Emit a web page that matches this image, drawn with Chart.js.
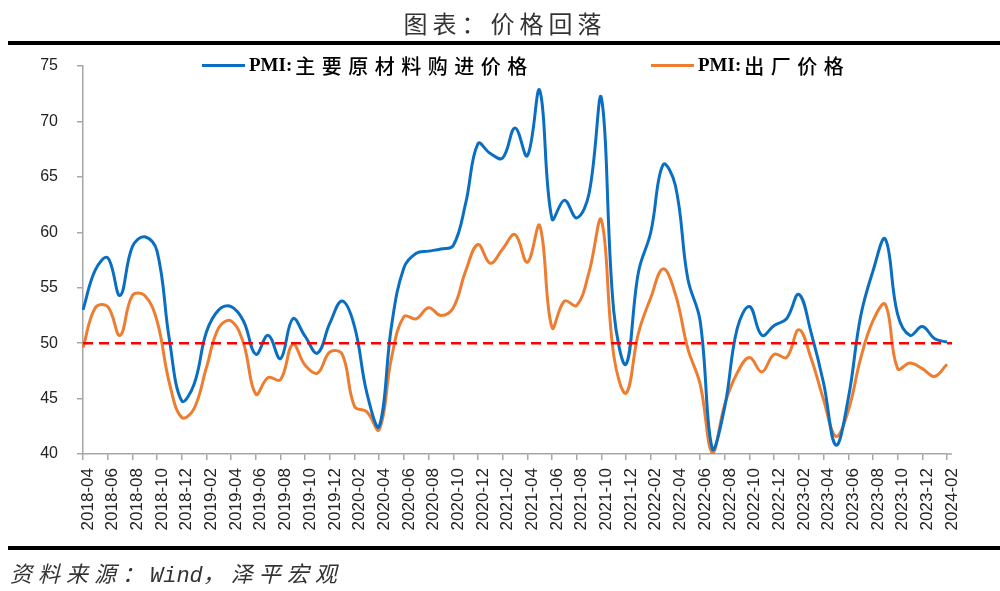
<!DOCTYPE html>
<html>
<head>
<meta charset="utf-8">
<script src="https://cdn.jsdelivr.net/npm/chart.js@4.4.1/dist/chart.umd.min.js"></script>
<style>
  body { margin: 0; background: #fff; width: 1000px; height: 591px; position: relative; overflow: hidden; }
  #chart { position: absolute; left: 0; top: 0; }
  .title { position: absolute; top: 5px; left: 0; width: 1000px; text-align: center; font: 24px "Noto Sans CJK SC"; letter-spacing: 5px; padding-left: 5px; color: #333; }
  .rule { position: absolute; left: 8px; right: 0; height: 4px; background: #000; }
  .leg { position: absolute; top: 52px; height: 26px; display: flex; align-items: center; white-space: nowrap; color: #000; }
  .leg .sw { display: inline-block; width: 43px; height: 3px; margin-right: 4px; }
  .leg .lat { font: bold 19px "Liberation Serif"; margin-right: 3px; }
  .leg .cjk { font: 500 20px "Noto Sans CJK SC"; letter-spacing: 6.5px; }
  .source { position: absolute; left: 10px; top: 556px; font-size: 22px; font-style: italic; color: #333; letter-spacing: 6px; font-family: "Noto Sans CJK SC"; white-space: nowrap; }
  .source .w { font-family: "Liberation Mono"; font-size: 22px; letter-spacing: 0; }
</style>
</head>
<body>
<canvas id="chart" width="1000" height="591"></canvas>
<div class="title">图表：价格回落</div>
<div class="rule" style="top:41px"></div>
<div class="leg" style="left:202px"><span class="sw" style="background:#0A6FC2"></span><span class="lat">PMI:</span><span class="cjk">主要原材料购进价格</span></div>
<div class="leg" style="left:651px"><span class="sw" style="background:#ED7D31"></span><span class="lat">PMI:</span><span class="cjk">出厂价格</span></div>
<div class="rule" style="top:546px"></div>
<div class="source">资料来源：<span class="w">Wind</span>，泽平宏观</div>

<script>
// --- Data ---
const months = [
  '2018-04','2018-05','2018-06','2018-07','2018-08','2018-09','2018-10','2018-11','2018-12',
  '2019-01','2019-02','2019-03','2019-04','2019-05','2019-06','2019-07','2019-08','2019-09','2019-10','2019-11','2019-12',
  '2020-01','2020-02','2020-03','2020-04','2020-05','2020-06','2020-07','2020-08','2020-09','2020-10','2020-11','2020-12',
  '2021-01','2021-02','2021-03','2021-04','2021-05','2021-06','2021-07','2021-08','2021-09','2021-10','2021-11','2021-12',
  '2022-01','2022-02','2022-03','2022-04','2022-05','2022-06','2022-07','2022-08','2022-09','2022-10','2022-11','2022-12',
  '2023-01','2023-02','2023-03','2023-04','2023-05','2023-06','2023-07','2023-08','2023-09','2023-10','2023-11','2023-12',
  '2024-01','2024-02'
];

// PMI: 主要原材料购进价格
const purchasePrice = [
  53.0, 56.6, 57.7, 54.3, 58.7, 59.6, 58.3, 50.3, 44.8,
  46.3, 51.0, 53.0, 53.3, 52.0, 49.0, 50.7, 48.6, 52.2, 50.6, 49.1, 51.8,
  53.8, 51.5, 45.5, 42.5, 51.6, 56.8, 58.1, 58.3, 58.5, 58.8, 62.6, 68.0,
  67.1, 66.7, 69.4, 66.9, 72.8, 61.2, 62.9, 61.3, 63.5, 72.1, 52.9, 48.1,
  56.4, 60.0, 66.1, 64.2, 55.8, 52.0, 40.4, 44.3, 51.3, 53.3, 50.7, 51.6,
  52.2, 54.4, 50.9, 46.4, 40.8, 45.0, 52.4, 56.5, 59.4, 52.6, 50.7, 51.5,
  50.4, 50.1
];

// PMI: 出厂价格
const outputPrice = [
  49.6, 53.2, 53.3, 50.7, 54.3, 54.3, 52.0, 46.4, 43.3,
  44.1, 47.8, 51.4, 52.0, 50.0, 45.4, 46.9, 46.7, 49.9, 48.0, 47.3, 49.2,
  49.0, 44.3, 43.8, 42.2, 48.7, 52.4, 52.2, 53.2, 52.5, 53.2, 56.5, 58.9,
  57.2, 58.5, 59.8, 57.3, 60.6, 51.4, 53.8, 53.4, 56.4, 61.1, 48.9, 45.5,
  50.9, 54.1, 56.7, 54.4, 49.5, 46.3, 40.1, 44.5, 47.3, 48.7, 47.4, 49.0,
  48.7, 51.2, 48.6, 44.9, 41.6, 43.9, 48.6, 52.0, 53.5, 47.7, 48.2, 47.7,
  47.0, 48.1
];

const yMin = 40, yMax = 75, yStep = 5;
const threshold = 50; // 荣枯线

const axisGray = '#A6A6A6';

// red dashed line at 50
const thresholdLine = {
  id: 'thresholdLine',
  afterDatasetsDraw(chart) {
    const { ctx, chartArea, scales } = chart;
    const y = scales.y.getPixelForValue(threshold);
    ctx.save();
    ctx.strokeStyle = '#FF0000';
    ctx.lineWidth = 2.5;
    ctx.setLineDash([10, 6]);
    ctx.beginPath();
    ctx.moveTo(chartArea.left, y);
    ctx.lineTo(chartArea.right + 5, y);
    ctx.stroke();
    ctx.restore();
  }
};

// x axis in the reference runs a few px past the last point
const axisTail = {
  id: 'axisTail',
  afterDraw(chart) {
    const { ctx, chartArea } = chart;
    ctx.save();
    ctx.strokeStyle = axisGray;
    ctx.lineWidth = 1.5;
    ctx.beginPath();
    ctx.moveTo(chartArea.right, chartArea.bottom);
    ctx.lineTo(chartArea.right + 5, chartArea.bottom);
    ctx.stroke();
    ctx.restore();
  }
};

new Chart(document.getElementById('chart'), {
  type: 'line',
  data: {
    labels: months,
    datasets: [
      {
        label: 'PMI:主要原材料购进价格',
        data: purchasePrice,
        borderColor: '#0A6FC2',
        borderWidth: 3,
        pointRadius: 0,
        tension: 0.4
      },
      {
        label: 'PMI:出厂价格',
        data: outputPrice,
        borderColor: '#ED7D31',
        borderWidth: 3,
        pointRadius: 0,
        tension: 0.4
      }
    ]
  },
  options: {
    responsive: false,
    animation: false,
    layout: { padding: { top: 66, right: 53, left: 0, bottom: 0 } },
    plugins: {
      legend: { display: false },
      tooltip: { enabled: false }
    },
    scales: {
      x: {
        offset: false,
        afterFit: (s) => { s.height = 137; },
        border: { display: true, color: axisGray, width: 1.5 },
        grid: { display: true, drawOnChartArea: false, drawTicks: true, tickLength: 6, color: axisGray, lineWidth: 1.5 },
        ticks: {
          autoSkip: false,
          maxRotation: 90,
          minRotation: 90,
          padding: 8,
          labelOffset: 5,
          color: '#222',
          font: { family: '"Liberation Sans", Arial', size: 17 },
          callback: function(val, i) { return i % 2 === 0 ? this.getLabelForValue(val) : null; }
        }
      },
      y: {
        min: yMin,
        max: yMax,
        afterFit: (s) => { s.width = 83; },
        border: { display: true, color: axisGray, width: 1.5 },
        grid: { display: true, drawOnChartArea: false, drawTicks: true, tickLength: 6, color: axisGray, lineWidth: 1.5 },
        ticks: {
          stepSize: yStep,
          padding: 19,
          color: '#222',
          font: { family: '"Liberation Sans", Arial', size: 16 }
        }
      }
    }
  },
  plugins: [thresholdLine, axisTail]
});
</script>
</body>
</html>
